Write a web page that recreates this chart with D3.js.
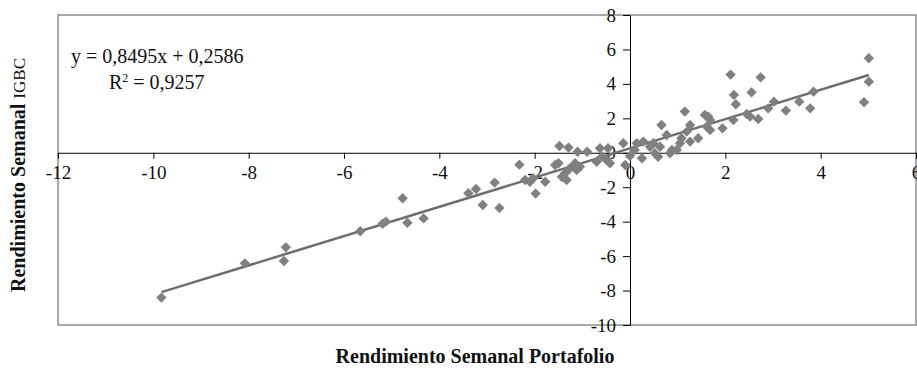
<!DOCTYPE html>
<meta charset="utf-8">
<style>
body { margin: 0; background: #fff; }
.frame { fill: none; stroke: #8c8c8c; stroke-width: 1.5px; }
.axis path, .axis line { stroke: #000; stroke-width: 1px; }
.axis text { font-family: "Liberation Serif", serif; font-size: 19px; fill: #111; }
.point { fill: #808080; }
.trend { stroke: #6e6e6e; stroke-width: 2.5px; fill: none; }
.label { font-family: "Liberation Serif", serif; fill: #111; }
</style>
<body>
<script src="https://cdn.jsdelivr.net/npm/d3@7"></script>
<script>
    const width = 917;
    const height = 370;

    // weekly returns
    const portfolio = [
        -9.83, -8.08, -7.22, -7.26, -5.66, -5.19, -5.12, -4.77, -4.67, -4.33,
        -3.39, -3.23, -3.09, -2.84, -2.74, -2.32, -2.20, -2.10, -2.03, -1.98,
        -1.78, -1.57, -1.50, -1.48, -1.43, -1.36, -1.33, -1.29, -1.26, -1.15,
        -1.12, -1.05, -1.10, -0.90, -0.70, -0.59, -0.49, -0.42, -0.63, -0.46,
        -0.14, 0.00, -0.10, 0.14, 0.10, 0.25, 0.28, 0.42, 0.49, 0.63,
        0.52, 0.59, 0.66, 0.77, 0.84, 0.88, 0.98, 1.05, 1.08, 1.15,
        1.19, 1.26, 1.26, 1.43, 1.57, 1.64, 1.68, 1.61, 1.68, 1.94,
        2.11, 2.18, 2.22, 2.17, 2.45, 2.52, 2.55, 2.69, 2.74, 2.90,
        3.02, 3.27, 3.55, 3.78, 3.85, 4.91, 5.01, 5.01
    ];
    const igbc = [
        -8.41, -6.42, -5.49, -6.28, -4.56, -4.12, -4.00, -2.64, -4.06, -3.81,
        -2.35, -2.10, -3.03, -1.73, -3.20, -0.69, -1.58, -1.68, -1.48, -2.37,
        -1.68, -0.71, -0.61, 0.39, -1.39, -1.19, -1.58, 0.30, -0.90, -0.61,
        -1.00, -0.81, 0.06, 0.06, -0.52, -0.23, -0.42, -0.61, 0.26, 0.26,
        0.55, -0.18, -0.71, 0.55, 0.16, -0.32, 0.65, 0.35, 0.55, 0.35,
        -0.03, -0.23, 1.61, 1.03, -0.03, 0.16, 0.16, 0.55, 0.84, 2.39,
        1.23, 1.61, 0.65, 0.84, 2.20, 2.10, 1.90, 1.52, 1.32, 1.42,
        4.54, 3.36, 2.82, 1.90, 2.25, 2.10, 3.51, 1.96, 4.38, 2.58,
        2.97, 2.45, 2.97, 2.58, 3.55, 2.93, 5.49, 4.13
    ];

    const xTicks = [-12, -10, -8, -6, -4, -2, 0, 2, 4, 6];
    const yTicks = [-10, -8, -6, -4, -2, 0, 2, 4, 6, 8];

    const slope = 0.8495;
    const intercept = 0.2586;

    const plot = { left: 58, right: 916, top: 15, bottom: 325 };

    const x = d3.scaleLinear().domain([-12, 6]).range([plot.left, plot.right]);
    const y = d3.scaleLinear().domain([-10, 8]).range([plot.bottom, plot.top]);

    // plain hyphen as minus, like the original
    const fmt = function(d) { return String(d); };

    const svg = d3.select("body").append("svg")
        .attr("width", width)
        .attr("height", height);

    svg.append("rect")
        .attr("class", "frame")
        .attr("x", plot.left)
        .attr("y", plot.top)
        .attr("width", plot.right - plot.left)
        .attr("height", plot.bottom - plot.top);

    svg.append("g")
        .attr("class", "axis")
        .attr("transform", "translate(0," + y(0) + ")")
        .call(d3.axisBottom(x).tickValues(xTicks).tickFormat(fmt)
            .tickSize(6).tickSizeOuter(0).tickPadding(7));

    svg.append("g")
        .attr("class", "axis")
        .attr("transform", "translate(" + x(0) + ",0)")
        .call(d3.axisLeft(y).tickValues(yTicks).tickFormat(fmt)
            .tickSize(7).tickSizeOuter(0).tickPadding(7));

    svg.selectAll(".axis").attr("font-family", null).attr("font-size", null);

    const xs = d3.extent(portfolio);
    svg.append("line")
        .attr("class", "trend")
        .attr("x1", x(xs[0]))
        .attr("y1", y(slope * xs[0] + intercept))
        .attr("x2", x(xs[1]))
        .attr("y2", y(slope * xs[1] + intercept));

    const diamond = d3.symbol().type(d3.symbolSquare).size(54);

    svg.selectAll(".point")
        .data(portfolio.map(function(d, i) { return [d, igbc[i]]; }))
        .enter()
        .append("path")
        .attr("class", "point")
        .attr("d", diamond)
        .attr("transform", function(d) {
            return "translate(" + x(d[0]) + "," + y(d[1]) + ") rotate(45)";
        });

    // regression text
    svg.append("text")
        .attr("class", "label")
        .attr("x", 71)
        .attr("y", 63)
        .attr("font-size", 20)
        .text("y = 0,8495x + 0,2586");

    const r2 = svg.append("text")
        .attr("class", "label")
        .attr("x", 109)
        .attr("y", 89)
        .attr("font-size", 20);
    r2.append("tspan").text("R");
    r2.append("tspan").attr("dy", -7).attr("font-size", 12).text("2");
    r2.append("tspan").attr("dy", 7).text(" = 0,9257");

    // axis titles
    svg.append("text")
        .attr("class", "label")
        .attr("x", 475)
        .attr("y", 363)
        .attr("text-anchor", "middle")
        .attr("font-size", 20)
        .attr("font-weight", "bold")
        .text("Rendimiento Semanal Portafolio");

    const yTitle = svg.append("text")
        .attr("class", "label")
        .attr("transform", "translate(25,175) rotate(-90)")
        .attr("text-anchor", "middle")
        .attr("font-size", 20);
    yTitle.append("tspan").attr("font-weight", "bold").text("Rendimiento Semanal ");
    yTitle.append("tspan").attr("font-size", 17).text("IGBC");
</script>
</body>
